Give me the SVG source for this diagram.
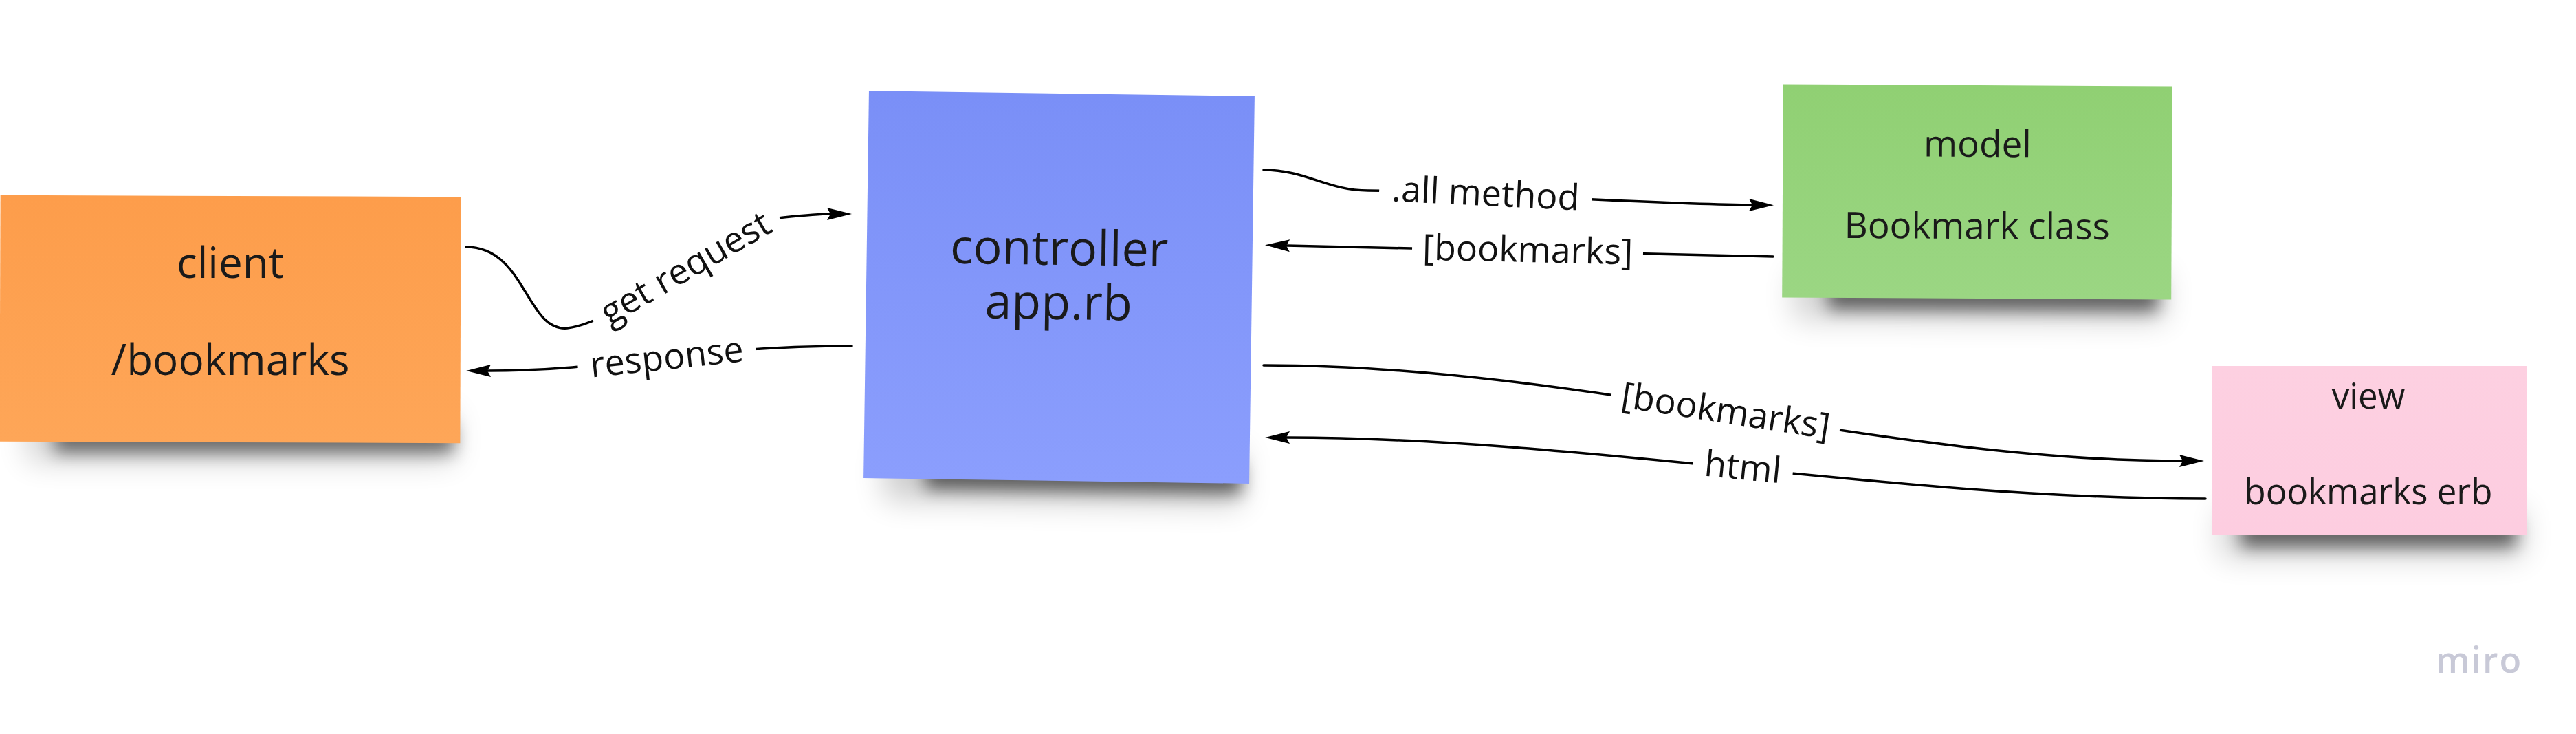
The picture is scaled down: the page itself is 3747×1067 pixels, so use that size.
<svg xmlns="http://www.w3.org/2000/svg" width="3747" height="1067" viewBox="0 0 3747 1067">
<style>
.nt{font-family:"Open Sans","Liberation Sans",sans-serif;fill:#1a1a1a;text-anchor:middle}
.lb{font-family:"Open Sans","Liberation Sans",sans-serif;fill:#111;text-anchor:middle;font-size:52px}
.ln{fill:none;stroke:#000;stroke-width:3.5;stroke-linecap:round}
.arr{marker-end:url(#ah)}
.gap{fill:#fff}
.sh{fill:#000;filter:url(#blur)}
.sh2{fill:#000;filter:url(#blur2)}
</style>
<defs>
<filter id="blur" x="-20%" y="-200%" width="140%" height="500%"><feGaussianBlur stdDeviation="12"/></filter>
<filter id="blur2" x="-20%" y="-200%" width="140%" height="500%"><feGaussianBlur stdDeviation="22"/></filter>
<marker id="ah" markerUnits="userSpaceOnUse" viewBox="0 0 36 18" markerWidth="36" markerHeight="18" refX="4" refY="9" orient="auto">
<path d="M0,0 L36,9 L0,18 L5,9 Z" fill="#000"/>
</marker>
<linearGradient id="gOr" x1="0" y1="0" x2="0" y2="1"><stop offset="0" stop-color="#fd9d4b"/><stop offset="1" stop-color="#fea658"/></linearGradient>
<linearGradient id="gBl" x1="0" y1="0" x2="0" y2="1"><stop offset="0" stop-color="#7a8ff7"/><stop offset="1" stop-color="#8b9efd"/></linearGradient>
<linearGradient id="gGr" x1="0" y1="0" x2="0" y2="1"><stop offset="0" stop-color="#90d073"/><stop offset="1" stop-color="#9bd683"/></linearGradient>
<linearGradient id="gPk" x1="0" y1="0" x2="0" y2="1"><stop offset="0" stop-color="#fdd0e1"/><stop offset="1" stop-color="#fdcde0"/></linearGradient>
</defs>
<rect width="3747" height="1067" fill="#fff"/>

<g id="client">
<rect class="sh2" x="40" y="600" width="620" height="70" opacity="0.18"/>
<rect class="sh" x="80" y="618" width="580" height="40" opacity="0.5"/>
<rect x="0" y="285" width="670" height="358" fill="url(#gOr)" transform="rotate(0.2 335 464)"/>
<text class="nt" x="335" y="404" font-size="62">client</text>
<text class="nt" x="335" y="545" font-size="62">/bookmarks</text>
</g>

<g id="controller" transform="rotate(0.8 1540 418)">
<rect class="sh2" x="1290" y="650" width="520" height="80" opacity="0.2"/>
<rect class="sh" x="1350" y="672" width="460" height="42" opacity="0.55"/>
<rect x="1260" y="136" width="561" height="563" fill="url(#gBl)"/>
<text class="nt" x="1540" y="385" font-size="70">controller</text>
<text class="nt" x="1540" y="464" font-size="70">app.rb</text>
</g>

<g id="model" transform="rotate(0.3 2876 279)">
<rect class="sh2" x="2610" y="395" width="540" height="70" opacity="0.18"/>
<rect class="sh" x="2660" y="413" width="480" height="38" opacity="0.55"/>
<rect x="2593" y="124" width="566" height="310" fill="url(#gGr)"/>
<text class="nt" x="2876" y="228" font-size="53">model</text>
<text class="nt" x="2876" y="347" font-size="53">Bookmark class</text>
</g>

<g id="view">
<rect class="sh2" x="3230" y="740" width="440" height="70" opacity="0.18"/>
<rect class="sh" x="3260" y="757" width="400" height="38" opacity="0.55"/>
<rect x="3217" y="532" width="458" height="246" fill="url(#gPk)"/>
<text class="nt" x="3445" y="594" font-size="51">view</text>
<text class="nt" x="3445" y="733" font-size="51">bookmarks erb</text>
</g>

<g id="connectors">
<path class="ln arr" d="M678,359 C765,359 765,482 825,477 C900,470 1090,320 1140,316 C1170,313 1190,311 1207,311"/>
<path class="ln arr" d="M1239,503 C1000,503 900,539 710,539"/>
<path class="ln arr" d="M1838,247 C1900,247 1930,277 1990,277 C2100,277 2400,297 2548,298"/>
<path class="ln arr" d="M2579,373 L1872,357"/>
<path class="ln arr" d="M1838,531 C2300,531 2740,670 3174,670"/>
<path class="ln arr" d="M3208,725 C2750,725 2300,636 1872,636"/>

<g transform="translate(998 391) rotate(-30)">
<rect class="gap" x="-155" y="-32" width="310" height="64"/>
<text class="lb" x="0" y="16">get request</text>
</g>
<g transform="translate(970 521) rotate(-6)">
<rect class="gap" x="-130" y="-32" width="260" height="64"/>
<text class="lb" x="0" y="16">response</text>
</g>
<g transform="translate(2161 283) rotate(2.8)">
<rect class="gap" x="-155" y="-32" width="310" height="64"/>
<text class="lb" x="0" y="16">.all method</text>
</g>
<g transform="translate(2222 365) rotate(1.3)">
<rect class="gap" x="-168" y="-34" width="336" height="68"/>
<text class="lb" x="0" y="16">[bookmarks]</text>
</g>
<g transform="translate(2510 599) rotate(8.7)">
<rect class="gap" x="-168" y="-34" width="336" height="68"/>
<text class="lb" x="0" y="16">[bookmarks]</text>
</g>
<g transform="translate(2535 681) rotate(5.6)">
<rect class="gap" x="-73" y="-32" width="146" height="64"/>
<text class="lb" x="0" y="16">html</text>
</g>
</g>

<text x="3543" y="978" font-family="'Open Sans','Liberation Sans',sans-serif" font-weight="600" font-size="52" fill="#c8c9d7" letter-spacing="2">miro</text>
</svg>
